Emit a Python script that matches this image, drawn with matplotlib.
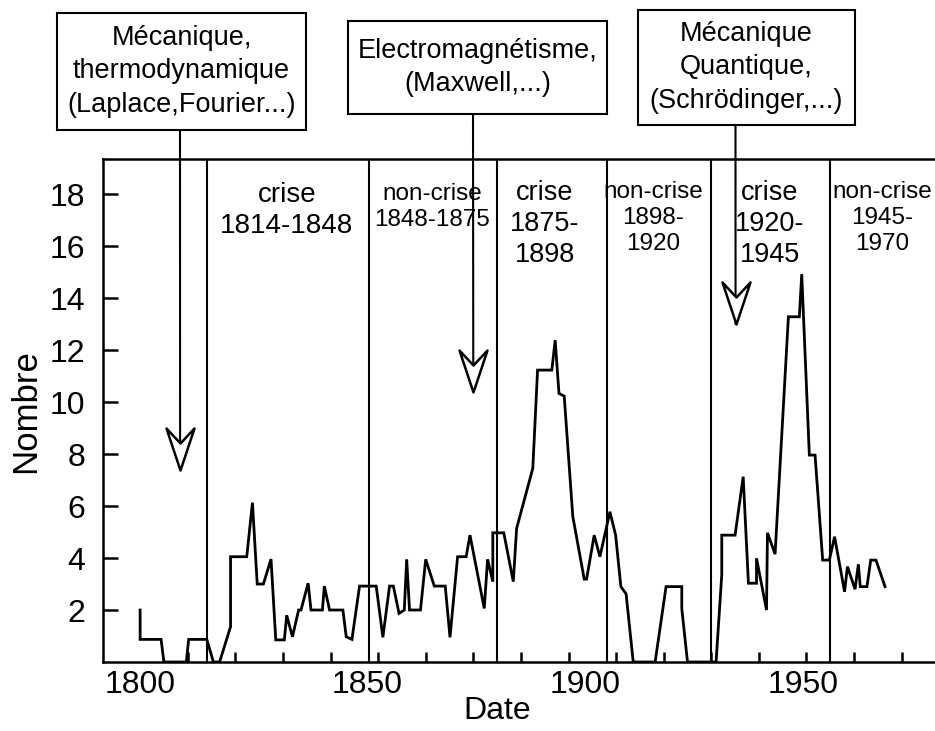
import numpy as np
import matplotlib
matplotlib.use("Agg")
import matplotlib.pyplot as plt
from matplotlib.path import Path
from matplotlib.patches import Rectangle

plt.rcParams['font.family'] = ['Liberation Sans', 'DejaVu Sans']

# data (year, number)
years = [1800, 1800, 1804.4, 1805, 1809.7, 1810.2, 1814, 1815.4, 1816.7, 1819,
         1819, 1822.4, 1823.6, 1824.6, 1825.9, 1827.5, 1828.5, 1830.3, 1830.8, 1832,
         1833.3, 1833.8, 1835.3, 1835.9, 1838.3, 1838.7, 1839.8, 1842.6, 1843.3, 1844.5,
         1846.1, 1849.6, 1851, 1852.4, 1853.2, 1854.4, 1855.5, 1856, 1856.6, 1858.9,
         1860, 1861.8, 1864.1, 1865.1, 1866.7, 1868.5, 1869.3, 1872.3, 1873, 1874.1,
         1874.1, 1876.4, 1878.4, 1879.1, 1882.5, 1883.5, 1886.5, 1887.2, 1888, 1889.1,
         1890.9, 1893.3, 1893.8, 1895.4, 1896.6, 1898.7, 1899.9, 1901, 1902.1, 1903.6,
         1908.2, 1910.5, 1913.8, 1913.8, 1915, 1921, 1922.2, 1922.2, 1925, 1926.7,
         1927.8, 1929.5, 1929.5, 1931.6, 1931.8, 1933.4, 1936.2, 1938.5, 1939, 1940.6,
         1941.8, 1943.4, 1944.8, 1945.9, 1948, 1948.6, 1950.2, 1950.9, 1951.3, 1952.7,
         1953.5, 1954.6, 1956.5]
nombre = [2.0, 0.87, 0.87, 0, 0, 0.87, 0.87, 0, 0, 1.36,
          4.05, 4.05, 6.13, 3.0, 3.0, 3.96, 0.85, 0.85, 1.8, 0.97,
          2.0, 2.0, 3.03, 2.0, 2.0, 2.92, 2.0, 2.0, 0.97, 0.87,
          2.92, 2.92, 0.95, 2.92, 2.92, 1.87, 2.0, 3.95, 2.0, 2.0,
          3.95, 2.92, 2.92, 0.95, 4.05, 4.05, 4.88, 2.06, 3.95, 3.09,
          4.97, 4.97, 3.09, 5.14, 7.45, 11.23, 11.23, 12.38, 10.33, 10.23,
          5.6, 3.19, 3.19, 4.88, 4.05, 5.78, 4.88, 2.9, 2.62, 0,
          0, 2.9, 2.9, 2.06, 0, 0, 3.35, 4.88, 4.88, 7.13,
          3.03, 3.03, 3.99, 2.0, 4.97, 4.15, 13.28, 13.28, 14.92, 7.96,
          7.96, 3.92, 3.92, 4.82, 2.7, 3.67, 2.8, 3.76, 2.9, 2.9,
          3.92, 3.92, 2.9]

# period boundaries and their labels
bornes = [1814, 1848, 1875, 1898, 1920, 1945]
periodes = ["crise\n1814-1848", "non-crise\n1848-1875", "crise\n1875-\n1898",
            "non-crise\n1898-\n1920", "crise\n1920-\n1945", "non-crise\n1945-\n1970"]

# x tick labels (placed where the reference puts them)
xlabels = ['1800', '1850', '1900', '1950']
xlabel_pos = [1800, 1847.7, 1893.5, 1939.3]
yticks = [2, 4, 6, 8, 10, 12, 14, 16, 18]

# annotations: text, year pointed at, arrow tip value
notes = ["Mécanique,\nthermodynamique\n(Laplace,Fourier...)",
         "Electromagnétisme,\n(Maxwell,...)",
         "Mécanique\nQuantique,\n(Schrödinger,...)"]
note_years = [1808.4, 1870, 1925.1]
note_tips = [7.4, 10.4, 13.0]

W, H = 935, 731
fig = plt.figure(figsize=(W/100, H/100), dpi=100)
ax = fig.add_axes([103/W, 1 - 662/H, (W - 103)/W, (662 - 159)/H])
ax.set_xlim(1792.2, 1967.0)
ax.set_ylim(0, 19.35)

ax.plot(years, nombre, color='k', lw=2.0, solid_joinstyle='miter')
for b in bornes:
    ax.axvline(b, color='k', lw=1.5)

for s in ['left', 'bottom', 'top']:
    ax.spines[s].set_linewidth(1.8)
ax.spines['right'].set_visible(False)

ax.set_xticks(xlabel_pos)
ax.set_xticklabels(xlabels, fontsize=23)
ax.set_xticks(np.arange(1800, 1961, 10), minor=True)
ax.tick_params(axis='x', which='major', length=0, pad=6)
ax.tick_params(axis='x', which='minor', direction='in', length=7, width=1.8)
ax.set_yticks(yticks)
ax.set_yticklabels([str(v) for v in yticks], fontsize=23)
ax.tick_params(axis='y', direction='in', length=11, width=1.8, pad=13)

fig.text(26/W, 1 - 411/H, 'Nombre', rotation=90, ha='center', va='center', fontsize=25)
fig.text(497/W, 1 - 711/H, 'Date', ha='center', va='center', fontsize=23)

# period labels (x px, y px centre, size)
lab_pos = [(287, 210, 20), (432, 207, 17.5), (545, 224, 19.5),
           (653, 218, 17.5), (770, 224, 19.5), (882, 218, 17.5)]
for txt, (px, py, fs) in zip(periodes, lab_pos):
    fig.text(px/W, 1 - py/H, txt, ha='center', va='center', fontsize=fs,
             linespacing=1.25)

# boxes with arrows
boxes = [(57, 12.7, 306, 130), (348, 20.7, 607, 114), (638, 10, 855, 125)]
note_px = [180, 473, 735.5]
head = Path([(0, 0), (14, 42), (0, 27), (-14, 42), (0, 0)],
            [Path.MOVETO, Path.LINETO, Path.LINETO, Path.LINETO, Path.CLOSEPOLY])
for txt, (x0, y0, x1, y1), px, yr, tip in zip(notes, boxes, note_px, note_years, note_tips):
    fig.patches.append(Rectangle((x0/W, 1 - y1/H), (x1 - x0)/W, (y1 - y0)/H,
                                 transform=fig.transFigure, fill=False, lw=1.5,
                                 edgecolor='k'))
    fig.text((x0 + x1)/2/W, 1 - (y0 + y1)/2/H, txt, ha='center', va='center',
             fontsize=19.5, linespacing=1.38)
    ax.annotate('', xy=(yr, tip), xycoords='data', xytext=(px/W, 1 - y1/H),
                textcoords='figure fraction', annotation_clip=False,
                arrowprops=dict(arrowstyle='-', lw=1.5, shrinkA=0, shrinkB=0))
    ax.plot([yr], [tip], marker=head, ms=60.5, mfc='white', mec='k', mew=1.8,
            zorder=5, clip_on=False)

fig.savefig('out.png', dpi=100)
